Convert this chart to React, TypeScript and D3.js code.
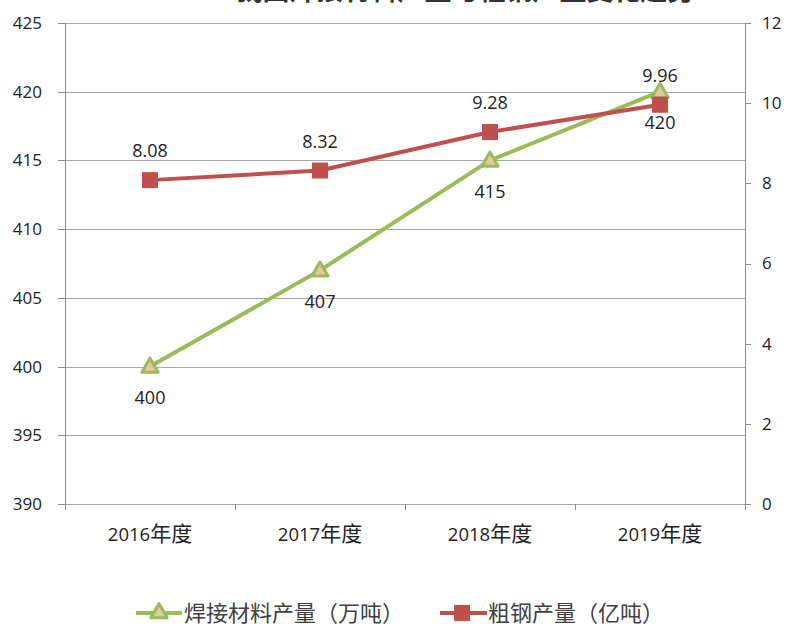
import React from "react";
import * as d3 from "d3";

const categories = ["2016", "2017", "2018", "2019"];
const categorySuffix = "年度";
const weldingOutput = [400, 407, 415, 420]; // 万吨
const steelOutput = [8.08, 8.32, 9.28, 9.96]; // 亿吨
const leftTicks = [390, 395, 400, 405, 410, 415, 420, 425];
const rightTicks = [0, 2, 4, 6, 8, 10, 12];
const seriesNames = ["焊接材料产量（万吨）", "粗钢产量（亿吨）"];
const titleText = "我国焊接材料产量与粗钢产量变化趋势";

const W = 789, H = 627;
const M = { left: 65, right: 745, top: 23, bottom: 504 };
const GREEN = "#9BBB59";
const GREEN_FILL = "#E3C8A0";
const RED = "#C0504D";
const FONT = "'Open Sans', 'Noto Sans CJK SC', sans-serif";
const CJK = "'Noto Sans CJK SC', sans-serif";

export default function App() {
  const x = d3.scaleBand<string>().domain(categories).range([M.left, M.right]);
  const yL = d3.scaleLinear().domain([390, 425]).range([M.bottom, M.top]);
  const yR = d3.scaleLinear().domain([0, 12]).range([M.bottom, M.top]);
  const cx = (c: string) => (x(c) as number) + x.bandwidth() / 2;

  const lineG = d3.line<number>().x((_, i) => cx(categories[i])).y((d) => yL(d));
  const lineR = d3.line<number>().x((_, i) => cx(categories[i])).y((d) => yR(d));
  const tri = d3.symbol().type(d3.symbolTriangle).size(115)();
  const boundaries = [M.left, ...categories.map((c) => (x(c) as number) + x.bandwidth())];

  return (
    <svg width={W} height={H} style={{ position: "absolute", left: 0, top: 0, background: "#fff" }}>
      <rect width={W} height={H} fill="#fff" />
      <text x={465} y={0} textAnchor="middle" fontFamily={CJK} fontSize={27} fontWeight="bold" fill="#333">{titleText}</text>
      {/* gridlines */}
      {leftTicks.map((t) => (
        <line key={t} x1={M.left} x2={M.right} y1={Math.round(yL(t)) + 0.5} y2={Math.round(yL(t)) + 0.5} stroke="#A6A6A6" strokeWidth={1} />
      ))}
      {/* left axis */}
      <line x1={M.left + 0.5} x2={M.left + 0.5} y1={M.top} y2={M.bottom + 5} stroke="#8C8C8C" />
      {leftTicks.map((t) => (
        <g key={"l" + t}>
          <line x1={M.left - 7} x2={M.left} y1={Math.round(yL(t)) + 0.5} y2={Math.round(yL(t)) + 0.5} stroke="#8C8C8C" />
          <text x={42} y={yL(t)} dy="0.35em" textAnchor="end" fontFamily={FONT} fontSize={17} fill="#222">{t}</text>
        </g>
      ))}
      {/* right axis */}
      <line x1={M.right + 0.5} x2={M.right + 0.5} y1={M.top} y2={M.bottom + 5} stroke="#8C8C8C" />
      {rightTicks.map((t) => (
        <g key={"r" + t}>
          <line x1={M.right} x2={M.right + 6} y1={Math.round(yR(t)) + 0.5} y2={Math.round(yR(t)) + 0.5} stroke="#8C8C8C" />
          <text x={762} y={yR(t)} dy="0.35em" textAnchor="start" fontFamily={FONT} fontSize={17} fill="#222">{t}</text>
        </g>
      ))}
      {/* x ticks */}
      {boundaries.map((b, i) => (
        <line key={"b" + i} x1={Math.round(b) + 0.5} x2={Math.round(b) + 0.5} y1={M.bottom} y2={M.bottom + 6} stroke="#8C8C8C" />
      ))}
      {categories.map((c) => (
        <text key={c} x={cx(c)} y={535} dy="0.35em" textAnchor="middle" fontFamily={FONT} fontSize={18.5} fill="#222">
          {c}
          <tspan fontFamily={CJK} fontSize={21}>{categorySuffix}</tspan>
        </text>
      ))}
      {/* series lines */}
      <path d={lineG(weldingOutput) || ""} fill="none" stroke={GREEN} strokeWidth={4} strokeLinejoin="round" />
      <path d={lineR(steelOutput) || ""} fill="none" stroke={RED} strokeWidth={4} strokeLinejoin="round" />
      {weldingOutput.map((v, i) => (
        <g key={"g" + i}>
          <path d={tri || ""} transform={`translate(${cx(categories[i])},${yL(v) + 1})`} fill={GREEN_FILL} stroke={GREEN} strokeWidth={3} strokeLinejoin="round" />
          <text x={cx(categories[i])} y={yL(v) + 31} dy="0.35em" textAnchor="middle" fontFamily={FONT} fontSize={18} fill="#222">{v}</text>
        </g>
      ))}
      {steelOutput.map((v, i) => (
        <g key={"r" + i}>
          <rect x={cx(categories[i]) - 8} y={yR(v) - 8} width={16} height={16} fill={RED} />
          <text x={cx(categories[i])} y={yR(v) - 29} dy="0.35em" textAnchor="middle" fontFamily={FONT} fontSize={18} fill="#222">{v.toFixed(2)}</text>
        </g>
      ))}
      {/* legend */}
      <g>
        <line x1={136} x2={182} y1={613} y2={613} stroke={GREEN} strokeWidth={4} />
        <path d={tri || ""} transform="translate(159,613)" fill={GREEN_FILL} stroke={GREEN} strokeWidth={3} strokeLinejoin="round" />
        <text x={184} y={613} dy="0.35em" fontFamily={CJK} fontSize={22} fill="#404040">{seriesNames[0]}</text>
        <line x1={440} x2={487} y1={613} y2={613} stroke={RED} strokeWidth={4} />
        <rect x={454} y={605} width={16} height={16} fill={RED} />
        <text x={488} y={613} dy="0.35em" fontFamily={CJK} fontSize={22} fill="#404040">{seriesNames[1]}</text>
      </g>
    </svg>
  );
}
